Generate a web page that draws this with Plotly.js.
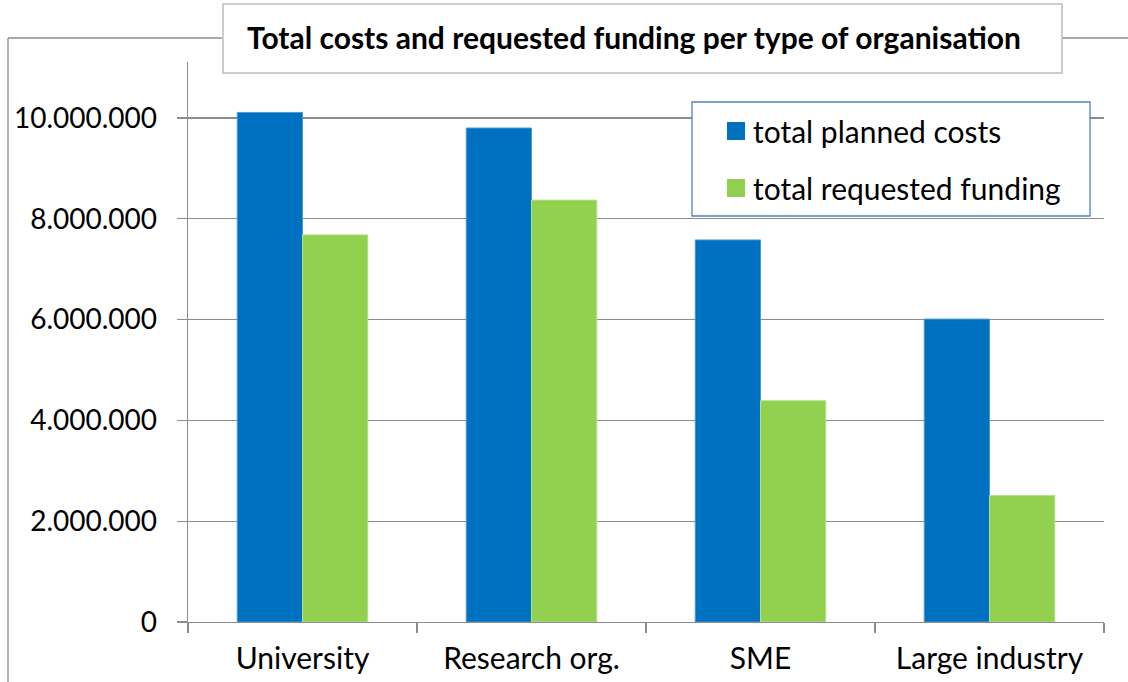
<!DOCTYPE html>
<html>
<head>
<meta charset="utf-8">
<script src="https://cdn.plot.ly/plotly-3.0.1.min.js"></script>
<style>
  body { margin: 0; background: #fff; }
  #chart { width: 1128px; height: 682px; }
</style>
</head>
<body>
<div id="chart"></div>
<script>
// chart data
var categories = ['University', 'Research org.', 'SME', 'Large industry'];
var plannedCosts = [10110000, 9800000, 7580000, 6010000];
var requestedFunding = [7680000, 8370000, 4390000, 2510000];
var seriesNames = ['total planned costs', 'total requested funding'];
var yTicks = [0, 2000000, 4000000, 6000000, 8000000, 10000000];
var chartTitle = 'Total costs and requested funding per type of organisation';

var blue = '#0070C0';
var green = '#92D050';
var font = 'Lato, "Open Sans", sans-serif';

// plot area in pixels: x 188..1104, y 62..622
var L = 188, R = 1104, T = 62, B = 622;
function px(x) { return (x - L) / (R - L); }
function py(y) { return (B - y) / (B - T); }

var trace1 = {
  x: categories,
  y: plannedCosts,
  type: 'bar',
  name: seriesNames[0],
  marker: { color: blue, line: { color: '#4a9ad6', width: 1 } },
  hoverinfo: 'x+y'
};
var trace2 = {
  x: categories,
  y: requestedFunding,
  type: 'bar',
  name: seriesNames[1],
  marker: { color: green, line: { color: '#b4e08a', width: 1 } },
  hoverinfo: 'x+y'
};

var frameColor = '#8c8c8c';
var shapes = [
  // outer frame (cut by title box)
  { type: 'line', xref: 'paper', yref: 'paper', x0: px(8), x1: px(222), y0: py(38), y1: py(38), line: { color: frameColor, width: 1.3 } },
  { type: 'line', xref: 'paper', yref: 'paper', x0: px(1062), x1: px(1130), y0: py(38), y1: py(38), line: { color: frameColor, width: 1.3 } },
  { type: 'line', xref: 'paper', yref: 'paper', x0: px(8), x1: px(8), y0: py(38), y1: py(690), line: { color: frameColor, width: 1.3 } },
  // title box
  { type: 'rect', xref: 'paper', yref: 'paper', x0: px(223), x1: px(1062), y0: py(4), y1: py(73), line: { color: '#bdbdbd', width: 1.5 }, fillcolor: 'rgba(0,0,0,0)' },
  // legend box
  { type: 'rect', xref: 'paper', yref: 'paper', x0: px(692), x1: px(1090), y0: py(102), y1: py(216), line: { color: '#4F81BD', width: 1.3 }, fillcolor: '#ffffff', layer: 'above' },
  // legend swatches
  { type: 'rect', xref: 'paper', yref: 'paper', x0: px(727), x1: px(745), y0: py(122), y1: py(140), line: { width: 0 }, fillcolor: blue, layer: 'above' },
  { type: 'rect', xref: 'paper', yref: 'paper', x0: px(727), x1: px(745), y0: py(179), y1: py(197), line: { width: 0 }, fillcolor: green, layer: 'above' }
];

var annotations = [
  { text: '<b>' + chartTitle + '</b>', xref: 'paper', yref: 'paper', x: px(634), y: py(37), xanchor: 'center', yanchor: 'middle', showarrow: false, font: { family: font, size: 30, color: '#000' } },
  { text: seriesNames[0], xref: 'paper', yref: 'paper', x: px(751), y: py(131), xanchor: 'left', yanchor: 'middle', showarrow: false, font: { family: font, size: 30, color: '#000' } },
  { text: seriesNames[1], xref: 'paper', yref: 'paper', x: px(751), y: py(188), xanchor: 'left', yanchor: 'middle', showarrow: false, font: { family: font, size: 30, color: '#000' } }
];

var layout = {
  width: 1128,
  height: 682,
  margin: { l: L, r: 1128 - R, t: T, b: 682 - B, pad: 0 },
  paper_bgcolor: '#fff',
  plot_bgcolor: '#fff',
  separators: ',.',
  barmode: 'group',
  bargap: 0.43,
  bargroupgap: 0,
  showlegend: false,
  font: { family: font, size: 28, color: '#000' },
  xaxis: {
    type: 'category',
    tickson: 'boundaries',
    ticks: 'outside',
    ticklen: 10,
    tickcolor: frameColor,
    tickwidth: 1.3,
    showline: true,
    linecolor: frameColor,
    linewidth: 1.3,
    showgrid: false,
    tickfont: { family: font, size: 30, color: '#000' },
    ticklabelstandoff: 10
  },
  yaxis: {
    range: [0, 11110000],
    tickvals: yTicks,
    tickformat: ',d',
    ticks: 'outside',
    ticklen: 10,
    tickcolor: frameColor,
    tickwidth: 1.3,
    showline: true,
    linecolor: frameColor,
    linewidth: 1.3,
    showgrid: true,
    gridcolor: frameColor,
    gridwidth: 1.3,
    zeroline: false,
    tickfont: { family: font, size: 28, color: '#000' },
    ticklabelstandoff: 14
  },
  shapes: shapes,
  annotations: annotations
};

Plotly.newPlot('chart', [trace1, trace2], layout, { displayModeBar: false, staticPlot: true });
</script>
</body>
</html>
